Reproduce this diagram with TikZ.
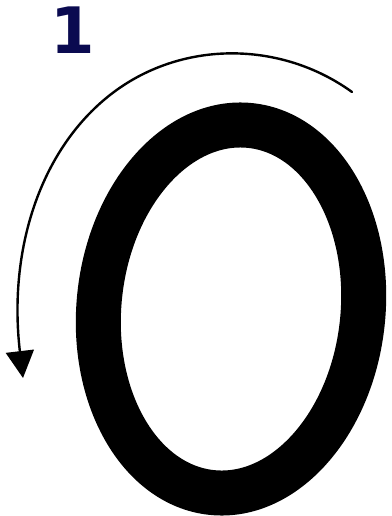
\documentclass[tikz,border=0pt]{standalone}
\usepackage{fontspec}
\newfontfamily\numfont{DejaVu Sans}
\usetikzlibrary{arrows.meta}
\definecolor{navy}{RGB}{10,10,80}

\begin{document}
\begin{tikzpicture}[x=1pt, y=-1pt, line cap=round, line join=round]
  \def\rx{132}     % half width of the O
  \def\ry{184.5}   % half height of the O
  \def\tilt{-6}    % lean of the O

  \useasboundingbox (0,0) rectangle (391,516);

  \coordinate (C) at (231,309);
  \coordinate (S) at (352,92);
  \coordinate (K) at (110,95);
  \coordinate (E) at (23,378);

  % The letter O
  \draw[line width=45pt, rotate around={\tilt:(C)}] (C) ellipse [x radius=\rx, y radius=\ry];

  % Stroke direction arrow
  \draw[line width=2.4pt, -{Triangle[length=27pt, width=28pt]}]
    (S) .. controls (280,40) and (180,40) .. (K)
        .. controls (40,150) and (8,250) .. (E);

  % Stroke number
  \node[navy, font=\numfont\bfseries\fontsize{64}{64}\selectfont, inner sep=0, anchor=base] (one) at (73,54) {1};
\end{tikzpicture}
\end{document}
